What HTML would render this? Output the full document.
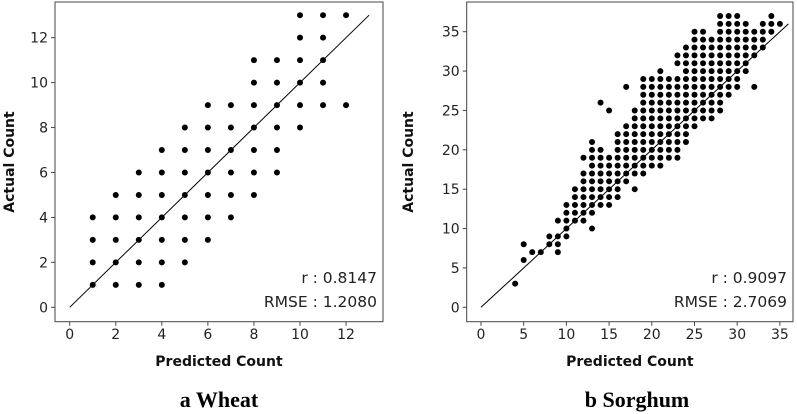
<!DOCTYPE html>
<html><head><meta charset="utf-8"><style>
body{margin:0;background:#fff;width:797px;height:414px;overflow:hidden}
svg{display:block}
.tk{font-family:"DejaVu Sans","Liberation Sans",sans-serif;font-size:14px;fill:#222}
.ax{font-family:"DejaVu Sans","Liberation Sans",sans-serif;font-size:14px;font-weight:bold;fill:#111}
.st{font-family:"DejaVu Sans","Liberation Sans",sans-serif;font-size:15.5px;fill:#222}
.cap{font-family:"Liberation Serif",serif;font-size:22px;font-weight:bold;fill:#000}
</style></head><body>
<svg id="s" width="797" height="414"></svg>
<script>
const wheatX=[1,2,3,4,5,6,7,8,9,10,11,12];
const wheatY=[[1,2,3,4],[1,2,3,4,5],[1,2,3,4,5,6],[1,2,3,4,5,6,7],[2,3,4,5,6,7,8],[3,4,5,6,7,8,9],[4,5,6,7,8,9],[5,6,7,8,9,10,11],[6,7,8,9,10,11],[8,9,10,11,12,13],[9,10,11,12,13],[9,13]];
const wheatTicks=[0,2,4,6,8,10,12];
const sorgX=[4,5,6,7,8,9,10,11,12,13,14,15,16,17,18,19,20,21,22,23,24,25,26,27,28,29,30,31,32,33,34,35];
const sorgYRanges=[[[3,3]],[[6,6],[8,8]],[[7,7]],[[7,7]],[[8,9]],[[7,9],[11,11]],[[9,13]],[[11,15]],[[11,17],[19,19]],[[10,10],[12,21]],[[13,20],[26,26]],[[13,19],[25,25]],[[14,22]],[[16,23],[28,28]],[[15,15],[17,25]],[[17,29]],[[18,29]],[[18,30]],[[19,29]],[[19,29],[31,32]],[[21,33]],[[23,35]],[[24,35]],[[24,34]],[[25,37]],[[27,37]],[[28,37]],[[30,36]],[[28,28],[32,35]],[[33,36]],[[35,37]],[[36,36]]];
const sorgTicks=[0,5,10,15,20,25,30,35];
const wheatStats=["r : 0.8147","RMSE : 1.2080"];
const sorgStats=["r : 0.9097","RMSE : 2.7069"];

const s=document.getElementById('s');
function el(t,a,txt){const e=document.createElementNS('http://www.w3.org/2000/svg',t);for(const k in a)e.setAttribute(k,a[k]);if(txt!==undefined)e.textContent=txt;s.appendChild(e);return e;}

function panel(p){
  const sx=v=>p.x0+v*p.kx, sy=v=>p.y0-v*p.ky;
  let f=el('rect',{x:p.L,y:2,width:p.R-p.L,height:319.7,fill:'none',stroke:'#444','stroke-width':1});
  
  
  p.ticks.forEach(t=>{
    let a=el('line',{x1:sx(t),x2:sx(t),y1:321.7,y2:325.7,stroke:'#444'});
    
    
    let b=el('text',{x:sx(t),y:339,'text-anchor':'middle',class:'tk'},t);
    
    
    let c=el('line',{x1:p.L-4,x2:p.L,y1:sy(t),y2:sy(t),stroke:'#444'});
    
    
    let d=el('text',{x:p.L-7,y:sy(t)+5,'text-anchor':'end',class:'tk'},t);
    
    
  });
  let l=el('line',{x1:sx(0),y1:sy(0),x2:sx(p.max),y2:sy(p.max),stroke:'#000','stroke-width':1});
  
  
  p.pts.forEach(([x,y])=>{
    let c=el('circle',{cx:sx(x),cy:sy(y),r:3,fill:'#000'});
    
    
  });
  let r1=el('text',{x:p.R-6,y:283,'text-anchor':'end',class:'st'},p.stats[0]);
  
  
  let r2=el('text',{x:p.R-6,y:307,'text-anchor':'end',class:'st'},p.stats[1]);
  
  
  let xt=el('text',{x:(p.L+p.R)/2,y:366,'text-anchor':'middle',class:'ax'},'Predicted Count');
  
  
  let yt=el('text',{x:0,y:0,'text-anchor':'middle',class:'ax',transform:`translate(${p.yx},162) rotate(-90)`},'Actual Count');
  
  
  let cp=el('text',{x:p.cx,y:407,'text-anchor':'middle',class:'cap'},p.cap);
  
  
}
const wp=[];wheatX.forEach((x,i)=>wheatY[i].forEach(y=>wp.push([x,y])));
const sp=[];sorgX.forEach((x,i)=>sorgYRanges[i].forEach(([a,b])=>{for(let y=a;y<=b;y++)sp.push([x,y]);}));
panel({n:'wheat',L:55,R:383,x0:69.7,kx:23.03,y0:307.3,ky:22.47,ticks:wheatTicks,max:13,pts:wp,stats:wheatStats,yx:14,cx:219,cap:'a  Wheat'});
panel({n:'sorghum',L:466.7,R:793,x0:481,kx:8.54,y0:307.3,ky:7.874,ticks:sorgTicks,max:36,pts:sp,stats:sorgStats,yx:413,cx:637,cap:'b  Sorghum'});
</script>
</body></html>
